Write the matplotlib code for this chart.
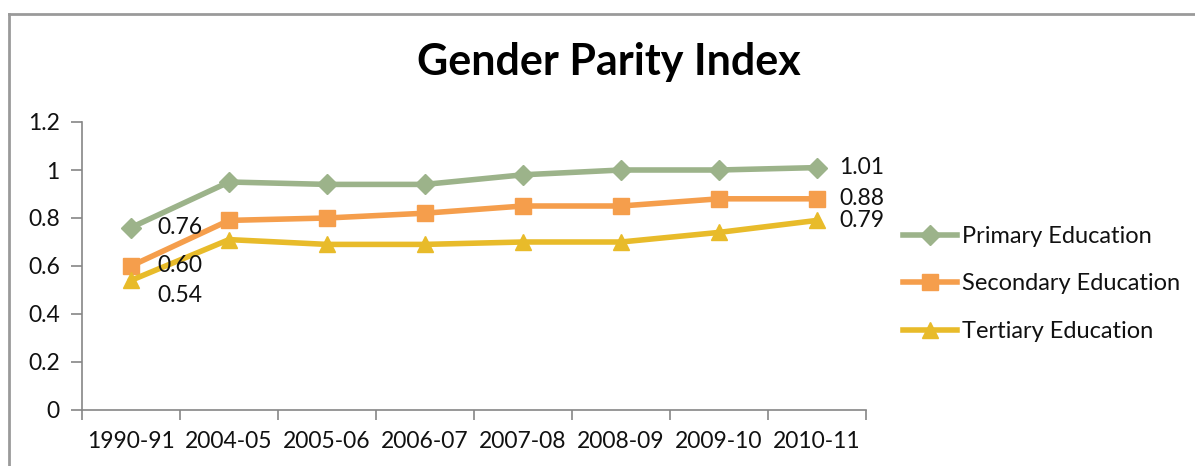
import numpy as np
import matplotlib
matplotlib.use("Agg")
import matplotlib.pyplot as plt
from matplotlib.lines import Line2D

years = ["1990-91", "2004-05", "2005-06", "2006-07", "2007-08", "2008-09", "2009-10", "2010-11"]
primary = [0.76, 0.95, 0.94, 0.94, 0.98, 1.00, 1.00, 1.01]
secondary = [0.60, 0.79, 0.80, 0.82, 0.85, 0.85, 0.88, 0.88]
tertiary = [0.54, 0.71, 0.69, 0.69, 0.70, 0.70, 0.74, 0.79]
series_names = ["Primary Education", "Secondary Education", "Tertiary Education"]

plt.rcParams["font.family"] = ["Lato", "DejaVu Sans"]

fig = plt.figure(figsize=(11.95, 4.66), dpi=100)
ax = fig.add_axes([82 / 1195, 1 - 410 / 466, 784 / 1195, 288 / 466])

x = np.arange(len(years))
styles = [
    (primary, "#9CB38A", "D", 10),
    (secondary, "#F59E4C", "s", 12),
    (tertiary, "#E8BB2A", "^", 12),
]
for (vals, col, mk, ms), name in zip(styles, series_names):
    ax.plot(x, vals, color=col, lw=4, marker=mk, markersize=ms,
            markerfacecolor=col, markeredgecolor=col, label=name)

# data labels at first and last points
lab_kw = dict(fontsize=16.5, color="#111111", va="center", ha="left",
              textcoords="offset points")
ax.annotate(f"{primary[0]:.2f}", (x[0], primary[0]), xytext=(19, 0), **lab_kw)
ax.annotate(f"{secondary[0]:.2f}", (x[0], secondary[0]), xytext=(19, 0), **lab_kw)
ax.annotate(f"{tertiary[0]:.2f}", (x[0], tertiary[0]), xytext=(19, -11), **lab_kw)
ax.annotate(f"{primary[-1]:.2f}", (x[-1], primary[-1]), xytext=(16, 0), **lab_kw)
ax.annotate(f"{secondary[-1]:.2f}", (x[-1], secondary[-1]), xytext=(16, 0), **lab_kw)
ax.annotate(f"{tertiary[-1]:.2f}", (x[-1], tertiary[-1]), xytext=(16, 0), **lab_kw)

ax.set_xlim(-0.5, len(years) - 0.5)
ax.set_ylim(0, 1.2)
ax.set_yticks(np.arange(0, 1.21, 0.2))
ax.set_yticklabels(["0", "0.2", "0.4", "0.6", "0.8", "1", "1.2"])
ax.set_xticks(np.arange(-0.5, len(years)), labels=[""] * (len(years) + 1))
ax.set_xticks(x, labels=years, minor=True)
ax.tick_params(axis="x", which="major", length=7, color="#868686", width=1.2)
ax.tick_params(axis="x", which="minor", length=0, pad=15, labelsize=16.5, labelcolor="#111111")
ax.tick_params(axis="y", length=8, color="#868686", width=1.2, pad=8, labelsize=16.5,
               labelcolor="#111111")

for s in ["top", "right"]:
    ax.spines[s].set_visible(False)
for s in ["left", "bottom"]:
    ax.spines[s].set_color("#868686")
    ax.spines[s].set_linewidth(1.2)

fig.text(609 / 1195, 1 - 62 / 466, "Gender Parity Index", fontsize=31,
         fontweight="bold", ha="center", va="center")

leg = ax.legend(loc="center left", bbox_to_anchor=((903 - 82) / 784, (410 - 284) / 288),
                frameon=False, fontsize=17, handlelength=2.3, handletextpad=0.2,
                labelspacing=1.12, borderaxespad=0, borderpad=0)
for t in leg.get_texts():
    t.set_color("#111111")

# chart frame
fig.add_artist(Line2D([9 / 1195, 9 / 1195], [0, 1 - 14 / 466], color="#9a9a9a", lw=2))
fig.add_artist(Line2D([9 / 1195, 1], [1 - 14 / 466, 1 - 14 / 466], color="#9a9a9a", lw=2))

fig.savefig("out.png", dpi=100)
